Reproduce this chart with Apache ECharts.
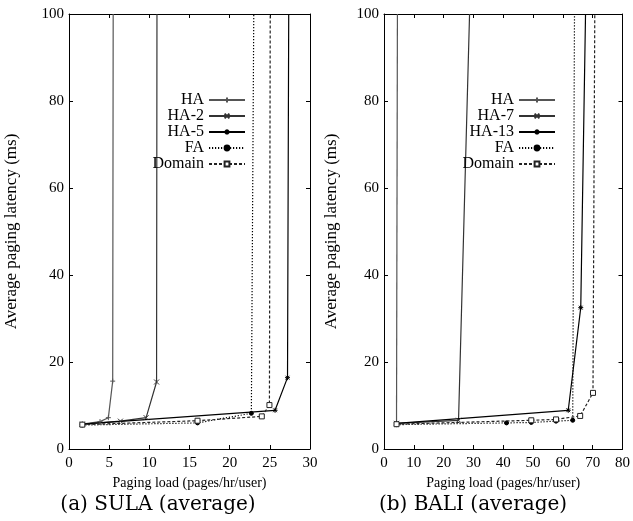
<!DOCTYPE html>
<html><head><meta charset="utf-8">
<script src="https://cdn.jsdelivr.net/npm/echarts@6/dist/echarts.min.js"></script>
<style>html,body{margin:0;padding:0;background:#fff}#c{width:633px;height:521px}</style>
</head><body><div id="c"></div>
<script>
// SULA (left)
const sulaHA     = [[1.66,5.7],[3.86,6.3],[4.9,7.2],[5.44,15.6],[5.5,100]];
const sulaHA2    = [[1.66,5.7],[6.4,6.4],[9.6,7.2],[10.9,15.4],[10.95,100]];
const sulaHA5    = [[1.66,5.7],[25.65,8.9],[27.2,16.4],[27.35,100]];
const sulaFA     = [[1.66,5.5],[16,6.0],[22.7,8.2],[23.0,100]];
const sulaDomain = [[1.66,5.6],[16,6.5],[24,7.5],[24.95,10.1],[25.05,100]];
// BALI (right)
const baliHA     = [[4.2,6.0],[4.5,100]];
const baliHA7    = [[4.2,5.9],[25,6.6],[28.7,100]];
const baliHA13   = [[4.2,5.9],[61.8,8.9],[66,32.5],[67.6,100]];
const baliFA     = [[4.2,5.6],[41.1,6.0],[49.4,6.1],[57.7,6.4],[63.3,6.6],[63.9,100]];
const baliDomain = [[4.2,5.7],[49.4,6.6],[57.7,6.8],[65.8,7.6],[70.1,12.9],[70.7,100]];

const sulaNames = ['HA','HA-2','HA-5','FA','Domain'];
const baliNames = ['HA','HA-7','HA-13','FA','Domain'];
const yTitle = 'Average paging latency (ms)';
const xTitle = 'Paging load (pages/hr/user)';
const captions = ['(a) SULA (average)','(b) BALI (average)'];

const FONT = 'Liberation Serif';
const PLUS = 'path://M0,-1V1M-1,0H1';
const CROSS = 'path://M-1,-1L1,1M-1,1L1,-1';
const STAR = 'path://M0,-1V1M-1,0H1M-0.75,-0.75L0.75,0.75M-0.75,0.75L0.75,-0.75';

const styles = [
  {color:'#555', type:'solid', symbol:PLUS, size:5, fill:'#555'},
  {color:'#333', type:'solid', symbol:CROSS, size:5, fill:'#333'},
  {color:'#000', type:'solid', symbol:STAR, size:5, fill:'#000'},
  {color:'#000', type:[1.2,1.8], symbol:'circle', size:4, fill:'#000'},
  {color:'#222', type:[3,2], symbol:'rect', size:5, fill:'#fff'}
];

function mk(name, data, st, gi){
  return {
    name, type:'line', xAxisIndex:gi*2, yAxisIndex:gi*2, clip:true,
    data: data.map(p => p[1] >= 100 ? {value:p, symbol:'none'} : {value:p}),
    symbol: st.symbol, symbolSize: st.size,
    lineStyle:{color:st.color, width:1.2, type:st.type},
    itemStyle:{color:st.fill, borderColor:st.color, borderWidth:1},
    emphasis:{disabled:true}, animation:false
  };
}

const grids = [
  {left:69, top:14, width:241, height:435},
  {left:384, top:14, width:241, height:435}
];
const axisLineStyle = {lineStyle:{color:'#000', width:1}};
function xAxes(gi, max, interval){
  const base = {type:'value', gridIndex:gi, min:0, max, interval,
    axisLine:{show:true, onZero:false, ...axisLineStyle},
    axisTick:{show:true, inside:true, length:4, lineStyle:{color:'#000'}},
    splitLine:{show:false}};
  return [
    {...base, position:'bottom',
      axisLabel:{fontFamily:FONT, fontSize:15, color:'#000', margin:7},
      name:xTitle, nameLocation:'middle', nameGap:24,
      nameTextStyle:{fontFamily:FONT, fontSize:14, color:'#000'}},
    {...base, position:'top', axisLabel:{show:false}}
  ];
}
function yAxes(gi, gap){
  const base = {type:'value', gridIndex:gi, min:0, max:100, interval:20,
    axisLine:{show:true, onZero:false, ...axisLineStyle},
    axisTick:{show:true, inside:true, length:4, lineStyle:{color:'#000'}},
    splitLine:{show:false}};
  return [
    {...base, position:'left',
      axisLabel:{fontFamily:FONT, fontSize:15, color:'#000', margin:5},
      name:yTitle, nameLocation:'middle', nameGap:gap, nameRotate:90,
      nameTextStyle:{fontFamily:FONT, fontSize:17, color:'#000'}},
    {...base, position:'right', axisLabel:{show:false}}
  ];
}

const sulaData = [sulaHA, sulaHA2, sulaHA5, sulaFA, sulaDomain];
const baliData = [baliHA, baliHA7, baliHA13, baliFA, baliDomain];
const series = [];
sulaNames.forEach((n,i)=>series.push(mk(n, sulaData[i], styles[i], 0)));
baliNames.forEach((n,i)=>series.push(mk(n, baliData[i], styles[i], 1)));

function legend(names, right){
  return {data:names, orient:'vertical', align:'right', right, top:92, padding:0,
    itemWidth:36, itemHeight:6, itemGap:0, selectedMode:false,
    textStyle:{fontFamily:FONT, fontSize:16, color:'#000', lineHeight:15.5}};
}

const chart = echarts.init(document.getElementById('c'), null, {renderer:'canvas'});
chart.setOption({
  backgroundColor:'#fff', animation:false,
  grid: grids,
  xAxis: [...xAxes(0,30,5), ...xAxes(1,80,10)],
  yAxis: [...yAxes(0,49), ...yAxes(1,44)],
  legend: [legend(sulaNames, 387), legend(baliNames, 77)],
  series,
  graphic: [
    {type:'text', x:158, y:505, style:{text:captions[0], align:'center', verticalAlign:'middle', font:'20px "DejaVu Serif"', fill:'#000'}},
    {type:'text', x:473, y:505, style:{text:captions[1], align:'center', verticalAlign:'middle', font:'20px "DejaVu Serif"', fill:'#000'}}
  ]
});
</script></body></html>
